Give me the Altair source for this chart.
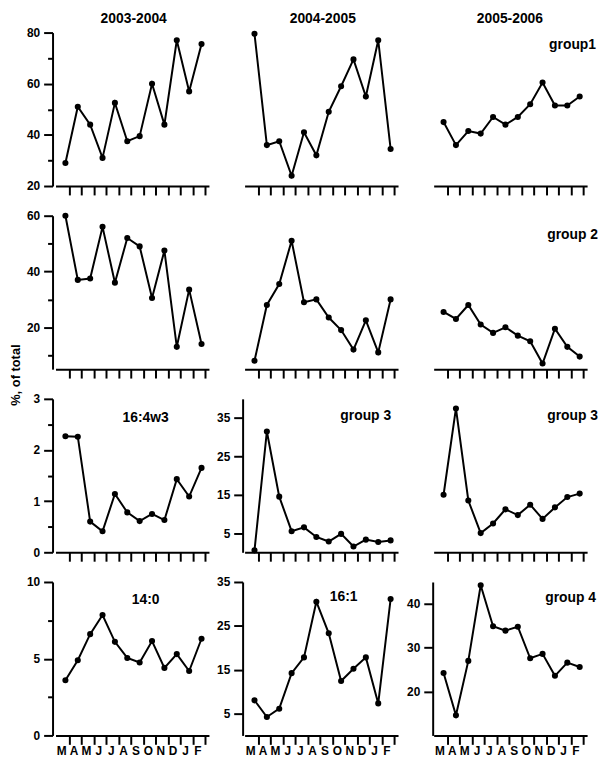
import altair as alt
import pandas as pd

# ---------------- data ----------------
months = ["M", "A", "M", "J", "J", "A", "S", "O", "N", "D", "J", "F"]
seasons = ["2003-2004", "2004-2005", "2005-2006"]

group1_0304 = [29, 51, 44, 31, 52.5, 37.5, 39.5, 60, 44, 77, 57, 75.5]
group1_0405 = [79.5, 36, 37.5, 24, 41, 32, 49, 59, 69.5, 55, 77, 34.5]
group1_0506 = [45, 36, 41.5, 40.5, 47, 44, 47, 52, 60.5, 51.5, 51.5, 55]

group2_0304 = [60, 37, 37.5, 56, 36, 52, 49, 30.5, 47.5, 13, 33.5, 14]
group2_0405 = [8, 28, 35.5, 51, 29, 30, 23.5, 19, 12, 22.5, 11, 30]
group2_0506 = [25.5, 23, 28, 21, 18, 20, 17, 15, 7, 19.5, 13, 9.5]

fa164w3_0304 = [2.27, 2.26, 0.6, 0.41, 1.14, 0.78, 0.61, 0.75, 0.63, 1.43, 1.09, 1.65]
group3_0405 = [0.5, 31.5, 14.5, 5.5, 6.5, 4, 2.8, 4.8, 1.5, 3.3, 2.7, 3.1]
group3_0506 = [15, 37.5, 13.5, 5, 7.5, 11.2, 9.7, 12.4, 8.7, 11.7, 14.4, 15.3]

fa140_0304 = [3.6, 4.9, 6.6, 7.85, 6.1, 5.05, 4.75, 6.15, 4.4, 5.3, 4.2, 6.3]
fa161_0405 = [8, 4.2, 6.1, 14.2, 17.8, 30.5, 23.3, 12.4, 15.2, 17.8, 7.3, 31.1]
group4_0506 = [24.25, 14.6, 27, 44.25, 34.9, 33.9, 34.8, 27.6, 28.6, 23.6, 26.6, 25.6]

yticks_r1 = [20, 30, 40, 50, 60, 70, 80]
yticks_r2 = [10, 20, 30, 40, 50, 60]
yticks_r3c1 = [0, 0.5, 1, 1.5, 2, 2.5, 3]
yticks_r4c1 = [0, 2.5, 5, 7.5, 10]
yticks_r3c2 = [5, 15, 25, 35]
yticks_r4c2 = [5, 15, 25, 35]
yticks_r4c3 = [20, 30, 40]

y_title = "%, of total"

# ---------------- styling ----------------
FONT = "Liberation Sans"
W, H = 155, 155
XDOM = [-0.8, 11.6]
TICK_POS = [i + 0.3 for i in range(12)]
MONTH_EXPR = "[" + ",".join("'%s'" % m for m in months) + "][round(datum.value - 0.3)]"


def text_layer(txt, x, y, align="center", size=14, angle=0):
    kw = dict(font=FONT, fontWeight="bold", fontSize=size, align=align,
              baseline="middle", color="black")
    if angle:
        kw["angle"] = angle
    return alt.Chart(pd.DataFrame({"t": [txt]})).mark_text(**kw).encode(
        text="t:N", x=alt.value(x), y=alt.value(y))


def panel(values, domain, bottom=False, yticks=None, label_step=None, yoffset=3, texts=()):
    df = pd.DataFrame({"i": list(range(12)), "v": values})
    xaxis = alt.Axis(values=TICK_POS, title=None, grid=False, domainWidth=2, domainColor="black",
                     tickWidth=2, tickColor="black", tickSize=9, labels=bottom,
                     labelExpr=MONTH_EXPR, labelFont=FONT, labelFontWeight="bold",
                     labelFontSize=12, labelColor="black", labelOffset=-8, labelPadding=1,
                     labelOverlap=False, labelFlush=False, labelBound=False)
    if yticks is not None:
        if label_step is None:
            ts = 9
            lexpr = "datum.label"
        else:
            ts = {"condition": {"test": "abs(datum.value %% %s) < 1e-9" % label_step, "value": 9},
                  "value": 5}
            lexpr = "abs(datum.value %% %s) < 1e-9 ? datum.label : ''" % label_step
        yaxis = alt.Axis(values=yticks, title=None, grid=False, domainWidth=2, domainColor="black",
                         tickWidth=2, tickColor="black", tickSize=ts, offset=yoffset,
                         format=".0f", labelExpr=lexpr, labelFont=FONT, labelFontWeight="bold",
                         labelFontSize=12, labelColor="black", labelPadding=4,
                         labelOverlap=False, labelFlush=False, labelBound=False)
    else:
        yaxis = None
    base = alt.Chart(df).encode(
        x=alt.X("i:Q", scale=alt.Scale(domain=XDOM, nice=False, zero=False), axis=xaxis),
        y=alt.Y("v:Q", scale=alt.Scale(domain=domain, nice=False, zero=False), axis=yaxis),
    )
    layers = [base.mark_line(color="black", strokeWidth=2),
              base.mark_circle(color="black", size=38, opacity=1)]
    for t in texts:
        layers.append(text_layer(*t))
    return alt.layer(*layers).properties(width=W, height=H)


panels = [
    panel(group1_0304, [20, 80], yticks=yticks_r1, label_step=20,
          texts=[(seasons[0], 79, -14)]),
    panel(group1_0405, [20, 80], texts=[(seasons[1], 79, -14)]),
    panel(group1_0506, [20, 80], texts=[(seasons[2], 77, -14), ("group1", 164, 13, "right")]),

    panel(group2_0304, [5, 60], yticks=yticks_r2, label_step=20,
          texts=[(y_title, -40, 161, "center", 13, 270)]),
    panel(group2_0405, [5, 60]),
    panel(group2_0506, [5, 60], texts=[("group 2", 166, 20, "right")]),

    panel(fa164w3_0304, [0, 3], yticks=yticks_r3c1, label_step=1,
          texts=[("16:4w3", 91, 19)]),
    panel(group3_0405, [0, 40], yticks=yticks_r3c2, yoffset=2,
          texts=[("group 3", 148, 17, "right")]),
    panel(group3_0506, [0, 40], texts=[("group 3", 166, 17, "right")]),

    panel(fa140_0304, [0, 10], bottom=True, yticks=yticks_r4c1, label_step=5,
          texts=[("14:0", 91, 18)]),
    panel(fa161_0405, [0, 35], bottom=True, yticks=yticks_r4c2, yoffset=2,
          texts=[("16:1", 100, 15)]),
    panel(group4_0506, [10, 45], bottom=True, yticks=yticks_r4c3, yoffset=1,
          texts=[("group 4", 164, 16, "right")]),
]

chart = alt.concat(*panels, columns=3, spacing={"row": 30, "column": 36},
                   bounds="flush").properties(
    padding={"left": 2, "top": 0, "right": 0, "bottom": 0}
).configure_view(stroke=None)

chart.save("out.html", embed_options={"renderer": "svg", "actions": False})
